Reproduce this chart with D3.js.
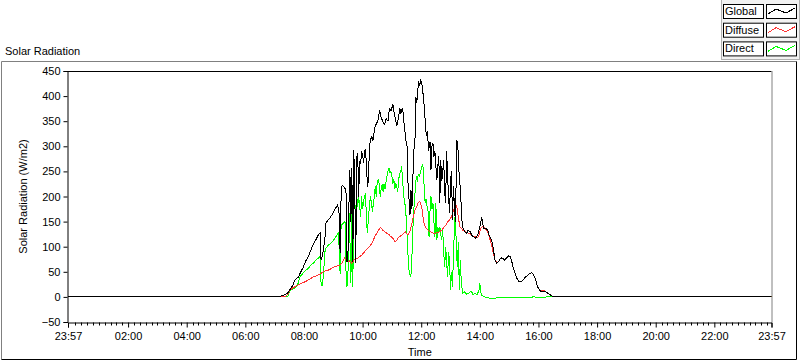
<!DOCTYPE html>
<html>
<head>
<meta charset="utf-8">
<script src="https://cdn.jsdelivr.net/npm/d3@7"></script>
<style>
  html, body { margin: 0; padding: 0; background: #ffffff; }
  svg { display: block; }
  text { font-family: "Liberation Sans", Arial, sans-serif; font-size: 11px; fill: #000; }
</style>
</head>
<body>
<svg id="chart" width="800" height="361"></svg>
<script>
// ---------- DATA ----------
const chartTitle = "Solar Radiation";
const yTitle = "Solar Radiation (W/m2)";
const xTitle = "Time";
const seriesNames = ["Global", "Diffuse", "Direct"];
const seriesColors = ["#000000", "#ff3333", "#00ff00"];

// x axis: minutes since midnight (window 23:57 -> 23:57)
const xDomain = [-3, 1437];
const xTickMinutes = [-3, 120, 240, 360, 480, 600, 720, 840, 960, 1080, 1200, 1320, 1437];
const xTickLabels = ["23:57", "02:00", "04:00", "06:00", "08:00", "10:00", "12:00", "14:00", "16:00", "18:00", "20:00", "22:00", "23:57"];
const yDomain = [-50, 450];
const yTicks = [-50, 0, 50, 100, 150, 200, 250, 300, 350, 400, 450];

// [minute, W/m2]
const globalData = [[-3,0],[427,0],[437,3],[447,8],[457,23],[461,33],[465,37],[469,40],[472,47],[478,58],[484,72],[490,83],[494,93],[498,103],[504,113],[509,123],[513,127],[515,73],[517,79],[520,95],[523,119],[525,147],[529,153],[533,157],[537,163],[541,170],[545,177],[549,183],[552,165],[554,87],[556,200],[558,223],[562,219],[566,213],[568,69],[570,83],[572,180],[574,253],[576,150],[578,257],[580,70],[582,293],[584,210],[586,67],[588,277],[590,287],[592,200],[594,270],[596,265],[598,290],[600,283],[602,267],[604,290],[606,293],[608,260],[610,219],[612,233],[614,299],[616,313],[619,319],[621,310],[625,337],[628,345],[631,350],[633,360],[635,373],[637,360],[640,353],[642,347],[645,343],[648,355],[652,350],[655,377],[658,370],[662,383],[664,370],[667,355],[670,340],[672,349],[674,360],[676,377],[678,365],[680,372],[682,377],[685,345],[687,327],[689,310],[691,300],[693,227],[695,195],[697,163],[699,213],[701,175],[703,240],[705,293],[707,300],[709,399],[711,387],[713,413],[715,429],[717,420],[719,433],[721,425],[723,413],[725,390],[727,373],[729,333],[731,320],[733,330],[735,290],[738,309],[740,253],[742,300],[744,307],[746,279],[748,290],[750,260],[752,233],[754,260],[756,280],[758,187],[760,273],[762,230],[764,250],[766,273],[768,210],[770,187],[772,290],[774,240],[776,200],[778,167],[780,230],[782,250],[784,153],[786,220],[788,180],[790,150],[793,313],[795,300],[797,253],[799,230],[801,200],[803,155],[805,139],[809,130],[813,127],[816,133],[820,130],[824,122],[828,119],[832,117],[836,125],[840,139],[842,150],[844,159],[846,145],[848,137],[852,137],[856,133],[860,120],[864,113],[867,100],[871,73],[875,67],[878,70],[882,76],[885,78],[888,76],[891,73],[895,78],[899,82],[902,80],[905,72],[908,60],[912,48],[916,37],[920,31],[924,30],[928,33],[933,39],[938,43],[942,47],[946,48],[950,44],[954,35],[958,20],[962,14],[966,10],[970,11],[974,11],[978,8],[983,5],[987,2],[993,0],[1437,0]];

const diffuseData = [[-3,0],[441,0],[447,5],[451,13],[457,18],[467,23],[475,27],[482,30],[488,33],[494,37],[500,40],[508,43],[515,47],[519,50],[525,52],[529,53],[535,56],[543,60],[549,62],[553,63],[558,67],[563,77],[566,73],[570,70],[574,72],[578,67],[582,73],[586,75],[590,77],[594,80],[598,83],[604,90],[610,97],[614,100],[619,107],[622,113],[625,120],[628,125],[631,130],[633,133],[635,137],[637,139],[641,133],[645,130],[649,127],[654,124],[658,120],[662,117],[666,110],[670,113],[672,117],[676,120],[680,123],[684,127],[687,130],[690,126],[693,123],[697,130],[701,147],[704,160],[707,173],[711,180],[713,187],[717,190],[719,185],[721,180],[723,163],[725,150],[728,140],[732,135],[738,130],[744,127],[750,127],[754,128],[758,130],[762,133],[766,138],[770,142],[774,150],[778,153],[782,160],[785,170],[789,180],[791,183],[793,178],[795,165],[799,140],[805,133],[811,129],[817,127],[823,123],[829,120],[835,118],[838,122],[842,137],[846,140],[850,137],[854,133],[858,125],[862,110],[865,100],[868,85],[871,73],[875,68],[878,70],[882,76],[885,78],[888,76],[891,73],[895,78],[899,82],[902,80],[905,72],[908,60],[912,48],[916,37],[920,31],[924,30],[928,33],[933,39],[938,43],[942,47],[946,48],[950,44],[954,35],[958,20],[962,14],[966,12],[970,13],[974,11],[978,8],[983,5],[987,2],[993,0],[1437,0]];

const directData = [[-3,0],[447,0],[451,13],[455,15],[461,17],[465,22],[468,27],[472,40],[478,47],[484,53],[490,58],[494,63],[500,68],[504,73],[509,77],[513,81],[515,27],[517,22],[519,35],[521,60],[523,90],[525,97],[530,103],[535,107],[540,112],[543,117],[547,122],[550,127],[552,100],[554,45],[556,143],[560,146],[564,150],[566,53],[568,20],[570,40],[572,173],[574,120],[576,27],[578,173],[580,20],[582,200],[584,190],[586,160],[588,200],[590,180],[592,200],[594,180],[596,160],[598,200],[600,175],[602,190],[604,200],[606,207],[608,150],[610,127],[612,160],[614,180],[616,200],[618,190],[620,170],[622,185],[624,200],[626,220],[628,200],[630,230],[632,233],[634,225],[636,200],[638,215],[640,225],[642,210],[644,225],[646,215],[648,230],[650,240],[652,250],[654,257],[656,248],[658,250],[660,240],[662,225],[664,235],[666,215],[668,225],[670,220],[672,210],[674,235],[676,245],[678,250],[680,260],[682,230],[684,205],[686,187],[688,180],[690,140],[692,107],[694,60],[696,47],[698,40],[700,50],[702,110],[704,160],[706,190],[708,215],[710,240],[712,230],[714,245],[716,240],[718,247],[720,255],[722,263],[724,258],[726,220],[728,187],[730,195],[732,180],[734,170],[736,120],[738,170],[740,200],[742,175],[744,187],[746,150],[748,120],[750,187],[752,113],[754,140],[756,127],[758,140],[760,125],[762,113],[764,133],[766,90],[768,60],[770,100],[772,70],[774,40],[776,90],[778,70],[780,13],[782,50],[784,20],[786,80],[788,140],[790,173],[792,90],[794,60],[796,110],[798,13],[800,73],[802,30],[805,7],[809,10],[813,5],[818,8],[822,12],[826,5],[830,7],[834,4],[838,12],[840,27],[842,8],[844,3],[850,0],[856,-2],[866,-3],[876,-2],[890,-2],[900,-1],[910,-2],[920,-1],[930,-2],[940,-1],[950,0],[960,-1],[980,0],[1437,0]];

// ---------- DRAW ----------
const svg = d3.select("#chart");
const plot = { left: 68, right: 771.5, top: 71, bottom: 322 };

const x = d3.scaleLinear().domain(xDomain).range([plot.left, plot.right]);
const y = d3.scaleLinear().domain(yDomain).range([plot.bottom, plot.top]);

// outer frame
svg.append("line").attr("x1", 1.5).attr("y1", 61.5).attr("x2", 796.5).attr("y2", 61.5).attr("stroke", "#808080");
svg.append("line").attr("x1", 1.5).attr("y1", 61.5).attr("x2", 1.5).attr("y2", 359.5).attr("stroke", "#808080");
svg.append("line").attr("x1", 1.5).attr("y1", 359.5).attr("x2", 796.5).attr("y2", 359.5).attr("stroke", "#000");
svg.append("line").attr("x1", 796.5).attr("y1", 61.5).attr("x2", 796.5).attr("y2", 359.5).attr("stroke", "#000");

// chart title
svg.append("text").attr("x", 5).attr("y", 55).text(chartTitle);

// plot borders
svg.append("line").attr("x1", plot.left).attr("y1", plot.top + 0.5).attr("x2", plot.right).attr("y2", plot.top + 0.5).attr("stroke", "#000");
svg.append("line").attr("x1", plot.right + 0.5).attr("y1", plot.top).attr("x2", plot.right + 0.5).attr("y2", plot.bottom).attr("stroke", "#808080");

svg.append("defs").append("clipPath").attr("id", "clip")
  .append("rect").attr("x", plot.left).attr("y", plot.top).attr("width", plot.right - plot.left).attr("height", plot.bottom - plot.top);

const line = d3.line().x(d => x(d[0])).y(d => y(d[1]));
const g = svg.append("g").attr("clip-path", "url(#clip)");
// draw Direct first, then Diffuse, Global on top
[[directData, seriesColors[2]], [diffuseData, seriesColors[1]], [globalData, seriesColors[0]]].forEach(([data, c]) => {
  g.append("path").datum(data).attr("d", line).attr("fill", "none").attr("stroke", c)
    .attr("stroke-width", 1).attr("shape-rendering", "crispEdges");
});

// y axis
const yAxis = d3.axisLeft(y).tickValues(yTicks).tickSize(4).tickPadding(3).tickFormat(d3.format("d"));
const ya = svg.append("g").attr("transform", `translate(${plot.left - 0.5},0)`).call(yAxis);
ya.select(".domain").attr("stroke", "#000");
ya.selectAll("text").style("font-family", "Liberation Sans, Arial, sans-serif").style("font-size", "11px");
ya.selectAll(".tick line").attr("stroke", "#000");

// x axis (major)
const xAxis = d3.axisBottom(x).tickValues(xTickMinutes).tickSize(5).tickPadding(5)
  .tickFormat((d, i) => xTickLabels[i]);
const xa = svg.append("g").attr("transform", `translate(0,${plot.bottom + 0.5})`).call(xAxis);
xa.select(".domain").attr("stroke", "#000");
xa.selectAll("text").style("font-family", "Liberation Sans, Arial, sans-serif").style("font-size", "11px");
// minor ticks every 12 minutes
const minor = d3.range(0, 1437, 12).filter(m => m % 120 !== 0);
xa.selectAll(".minor").data(minor).enter().append("line").attr("class", "minor")
  .attr("x1", d => Math.round(x(d)) + 0.5).attr("x2", d => Math.round(x(d)) + 0.5)
  .attr("y1", 0).attr("y2", 3).attr("stroke", "#000");

// axis titles
svg.append("text").attr("transform", `translate(27,${(plot.top + plot.bottom) / 2}) rotate(-90)`)
  .attr("text-anchor", "middle").text(yTitle);
svg.append("text").attr("x", (plot.left + plot.right) / 2).attr("y", 356).attr("text-anchor", "middle").text(xTitle);

// legend
const legend = svg.append("g");
legend.append("rect").attr("x", 721.5).attr("y", -1).attr("width", 78).attr("height", 60.5)
  .attr("fill", "#f2f2f2").attr("stroke", "#b0b0b0");
const iconPts = [[0, 10], [8, 5], [18, 9], [27, 4]];
seriesNames.forEach((name, i) => {
  const yy = 4 + i * 18.7;
  legend.append("rect").attr("x", 723.5).attr("y", yy + 0.5).attr("width", 40).attr("height", 14)
    .attr("fill", "#fff").attr("stroke", "#000");
  legend.append("text").attr("x", 725).attr("y", yy + 11).text(name);
  legend.append("rect").attr("x", 766.5).attr("y", yy + 0.5).attr("width", 30).attr("height", 14)
    .attr("fill", "#fff").attr("stroke", "#000");
  legend.append("path").datum(iconPts)
    .attr("d", d3.line().x(p => 768 + p[0]).y(p => yy + p[1]))
    .attr("fill", "none").attr("stroke", seriesColors[i]).attr("shape-rendering", "crispEdges");
});
</script>
</body>
</html>
